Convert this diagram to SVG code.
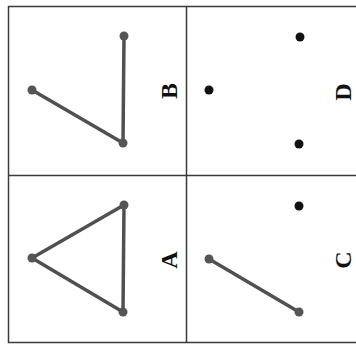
<svg xmlns="http://www.w3.org/2000/svg" width="356" height="345" viewBox="0 0 356 345">
<style>
.frame{fill:none;stroke:#3a3a3a;stroke-width:1.5}
.edge{stroke:#505050;stroke-width:3.5;stroke-linecap:round;fill:none}
.gdot{fill:#555}
.bdot{fill:#111}
.lbl{font-family:"Liberation Serif","Times New Roman",serif;font-weight:bold;font-size:24px;fill:#111;text-anchor:middle}
</style>
<rect width="356" height="345" fill="#fff"/>
<g id="frame">
<rect class="frame" x="8.5" y="6.5" width="360" height="336"/>
<line class="frame" x1="186.5" y1="6.5" x2="186.5" y2="342.5"/>
<line class="frame" x1="8.5" y1="175.5" x2="356" y2="175.5"/>
</g>
<g id="connectors">
<line class="edge" x1="124" y1="36" x2="123" y2="143"/>
<line class="edge" x1="32" y1="90" x2="123" y2="143"/>
<line class="edge" x1="124" y1="205" x2="32" y2="258"/>
<line class="edge" x1="32" y1="258" x2="123" y2="312"/>
<line class="edge" x1="124" y1="205" x2="123" y2="312"/>
<line class="edge" x1="209" y1="259" x2="299" y2="312"/>
</g>
<g id="B">
<circle class="gdot" cx="124" cy="36" r="4.5"/>
<circle class="gdot" cx="32" cy="90" r="4.5"/>
<circle class="gdot" cx="123" cy="143" r="4.5"/>
<text class="lbl" transform="translate(177,91) rotate(-90)">B</text>
</g>
<g id="A">
<circle class="gdot" cx="124" cy="205" r="4.5"/>
<circle class="gdot" cx="32" cy="258" r="4.5"/>
<circle class="gdot" cx="123" cy="312" r="4.5"/>
<text class="lbl" transform="translate(177,260) rotate(-90)">A</text>
</g>
<g id="D">
<circle class="bdot" cx="300" cy="37" r="4.5"/>
<circle class="bdot" cx="209" cy="90" r="4.5"/>
<circle class="bdot" cx="299" cy="144" r="4.5"/>
<text class="lbl" transform="translate(351,92) rotate(-90)">D</text>
</g>
<g id="C">
<circle class="bdot" cx="299" cy="206" r="4.5"/>
<circle class="gdot" cx="209" cy="259" r="4.5"/>
<circle class="gdot" cx="299" cy="312" r="4.5"/>
<text class="lbl" transform="translate(351,260) rotate(-90)">C</text>
</g>
</svg>
